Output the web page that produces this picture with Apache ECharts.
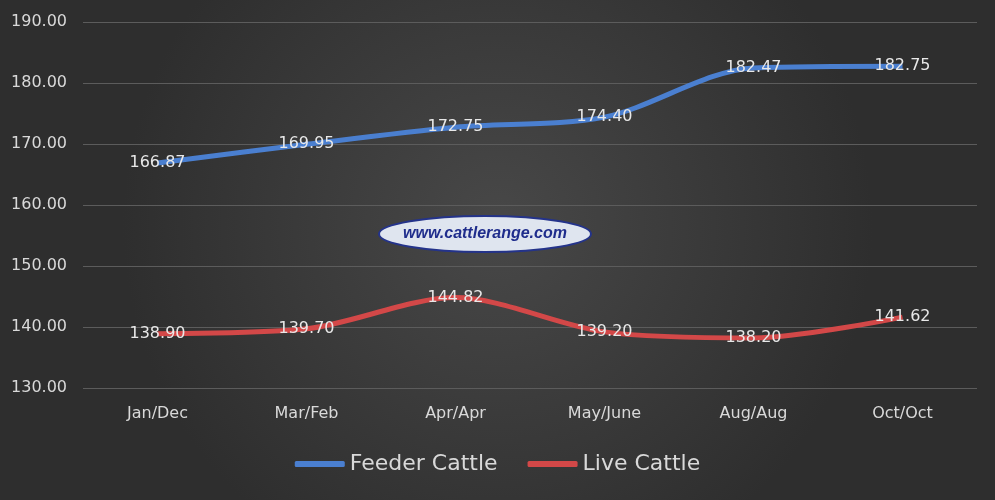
<!DOCTYPE html>
<html>
<head>
<meta charset="utf-8">
<script src="https://cdn.jsdelivr.net/npm/echarts@6/dist/echarts.min.js"></script>
<style>
  html, body { margin: 0; padding: 0; }
  #myChart { width: 995px; height: 500px; }
</style>
</head>
<body>
<div id="myChart"></div>
<script>
// 月份对比
var categories = ['Jan/Dec', 'Mar/Feb', 'Apr/Apr', 'May/June', 'Aug/Aug', 'Oct/Oct'];
var feederCattle = [166.87, 169.95, 172.75, 174.40, 182.47, 182.75];
var liveCattle = [138.90, 139.70, 144.82, 139.20, 138.20, 141.62];

var labelStyle = {
  show: true,
  position: 'inside',
  color: '#e8e8e8',
  fontSize: 16,
  fontFamily: 'DejaVu Sans',
  formatter: function (p) { return p.value.toFixed(2) }
};

var option = {
  backgroundColor: {
    type: 'radial', x: 0.5, y: 0.45, r: 0.75,
    colorStops: [
      { offset: 0, color: '#484848' },
      { offset: 1, color: '#2e2e2e' }
    ]
  },
  grid: { left: 83, right: 18, top: 22, bottom: 112 },
  legend: {
    bottom: 20,
    itemWidth: 50,
    itemHeight: 6,
    itemGap: 30,
    icon: 'roundRect',
    textStyle: { color: '#d9d9d9', fontSize: 22, fontFamily: 'DejaVu Sans' },
    data: ['Feeder Cattle', 'Live Cattle']
  },
  xAxis: {
    type: 'category',
    data: categories,
    boundaryGap: true,
    axisLine: { show: false },
    axisTick: { show: false },
    axisLabel: { color: '#d9d9d9', fontSize: 16, margin: 18, fontFamily: 'DejaVu Sans' }
  },
  yAxis: {
    type: 'value',
    min: 130,
    max: 190,
    interval: 10,
    axisLabel: {
      color: '#d9d9d9', fontSize: 16, margin: 16, fontFamily: 'DejaVu Sans',
      formatter: function (v) { return v.toFixed(2) }
    },
    splitLine: { lineStyle: { color: '#5c5c5c', width: 1 } }
  },
  graphic: [{
    type: 'group',
    left: 378,
    top: 215,
    children: [
      {
        type: 'ellipse',
        shape: { cx: 106, cy: 18, rx: 106, ry: 18 },
        style: { fill: '#dfe5ef', stroke: '#24338a', lineWidth: 2 }
      },
      {
        type: 'text',
        style: {
          x: 106, y: 18,
          text: 'www.cattlerange.com',
          align: 'center', verticalAlign: 'middle',
          fill: '#1f2d8c',
          font: 'italic bold 16px "Liberation Sans"'
        }
      }
    ]
  }],
  series: [
    {
      name: 'Feeder Cattle',
      type: 'line',
      smooth: 0.3,
      data: feederCattle,
      symbol: 'circle',
      symbolSize: 0,
      showSymbol: true,
      color: '#4a7fd0',
      lineStyle: { width: 5, color: '#4a7fd0' },
      label: labelStyle
    },
    {
      name: 'Live Cattle',
      type: 'line',
      smooth: 0.3,
      data: liveCattle,
      symbol: 'circle',
      symbolSize: 0,
      showSymbol: true,
      color: '#d34848',
      lineStyle: { width: 5, color: '#d34848' },
      label: labelStyle
    }
  ]
};

var myChart = echarts.init(document.getElementById('myChart'));
myChart.setOption(option);
</script>
</body>
</html>
